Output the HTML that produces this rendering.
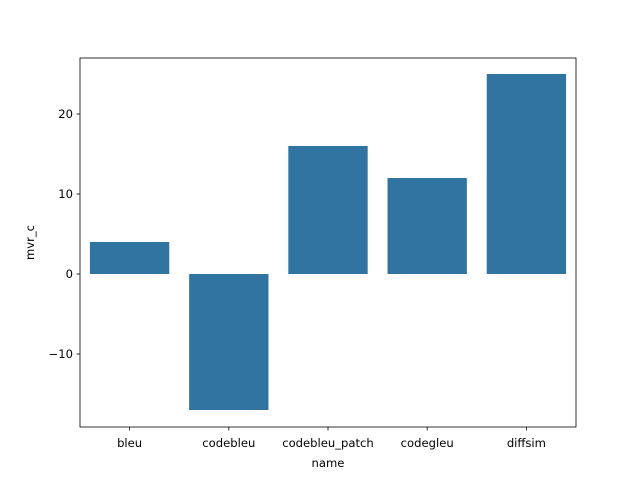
<!DOCTYPE html>
<html><head><meta charset="utf-8"><style>
body{margin:0;background:#fff;}
svg text{font-family:"DejaVu Sans","Liberation Sans",sans-serif;font-size:11.6px;fill:#000;}
</style></head><body>
<svg id="chart" width="640" height="480" xmlns="http://www.w3.org/2000/svg"></svg>
<script>
const categories = ["bleu","codebleu","codebleu_patch","codegleu","diffsim"];
const values = [4,-17,16,12,25];
const yTicks = [-10,0,10,20];
const yTickLabels = ["\u221210","0","10","20"];

const L=80,R=576,T=58,B=427, yMin=-19.125, yMax=27;
const svg=document.getElementById('chart');
const NS="http://www.w3.org/2000/svg";
function y(v){return B-(v-yMin)/(yMax-yMin)*(B-T);}
const slot=(R-L)/categories.length;
function x(i){return L+slot*(i+0.5);}
function mk(tag,attrs){const e=document.createElementNS(NS,tag);for(const k in attrs)e.setAttribute(k,attrs[k]);svg.appendChild(e);return e;}

values.forEach((v,i)=>{
  const r=mk('rect',{x:x(i)-slot*0.4,y:Math.min(y(v),y(0)),width:slot*0.8,height:Math.abs(y(v)-y(0)),fill:'#3274a1'});
  
  
});
const frame=mk('rect',{x:L,y:T,width:R-L,height:B-T,fill:'none',stroke:'#000','stroke-width':0.8});



categories.forEach((c,i)=>{
  mk('line',{x1:x(i),x2:x(i),y1:B,y2:B+3.5,stroke:'#000','stroke-width':0.8});
  const t=mk('text',{x:x(i),y:B+20,'text-anchor':'middle'});t.textContent=c;
  
  
});
yTicks.forEach((v,i)=>{
  mk('line',{x1:L-3.5,x2:L,y1:y(v),y2:y(v),stroke:'#000','stroke-width':0.8});
  const t=mk('text',{x:L-7,y:y(v)+4.2,'text-anchor':'end'});t.textContent=yTickLabels[i];
  
  
});
const xl=mk('text',{x:(L+R)/2,y:B+40,'text-anchor':'middle'});xl.textContent='name';


const yl=mk('text',{x:0,y:0,'text-anchor':'middle',transform:`translate(34,${(T+B)/2}) rotate(-90)`});yl.textContent='mvr_c';


</script>
</body></html>
